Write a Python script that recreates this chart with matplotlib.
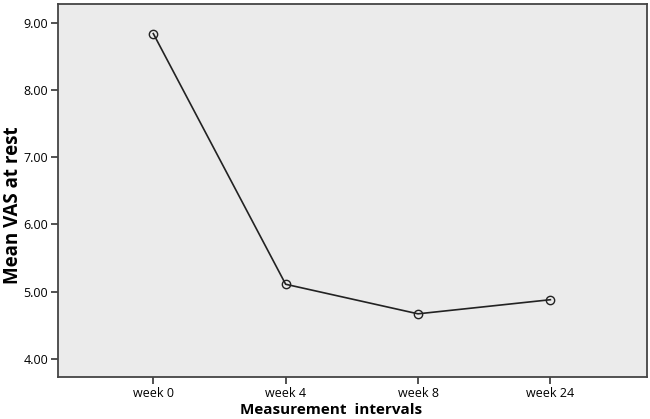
import matplotlib
matplotlib.use("Agg")
import matplotlib.pyplot as plt

plt.rcParams['font.family'] = ['Open Sans', 'DejaVu Sans']

weeks = ['week 0', 'week 4', 'week 8', 'week 24']
mean_vas = [8.84, 5.11, 4.67, 4.88]
yticks = [4.0, 5.0, 6.0, 7.0, 8.0, 9.0]

fig = plt.figure(figsize=(6.5, 4.19), dpi=100)
ax = fig.add_axes([58 / 650, 1 - 377 / 419, 589 / 650, 373 / 419])
ax.set_facecolor('#ebebeb')

x = list(range(len(weeks)))
ax.plot(x, mean_vas, color='#222222', lw=1.2, marker='o', markersize=6,
        markerfacecolor='none', markeredgecolor='#222222', markeredgewidth=1.0)

ax.set_xlim(-0.72, 3.73)
ax.set_ylim(3.73, 9.28)
ax.set_xticks(x)
ax.set_xticklabels(weeks, fontsize=9)
ax.set_yticks(yticks)
ax.set_yticklabels(['%.2f' % v for v in yticks], fontsize=9)
ax.tick_params(direction='out', length=5, width=1.2, color='#333333', pad=2)

for s in ax.spines.values():
    s.set_color('#444444')
    s.set_linewidth(1.3)

fig.text(331 / 650, 1 - 410 / 419, 'Measurement  intervals',
         fontsize=11, fontweight='bold', ha='center', va='center')
fig.text(13 / 650, 1 - 205 / 419, 'Mean VAS at rest', rotation=90,
         fontsize=13.5, fontweight='bold', ha='center', va='center')

fig.savefig('out.png', dpi=100, facecolor='white')
